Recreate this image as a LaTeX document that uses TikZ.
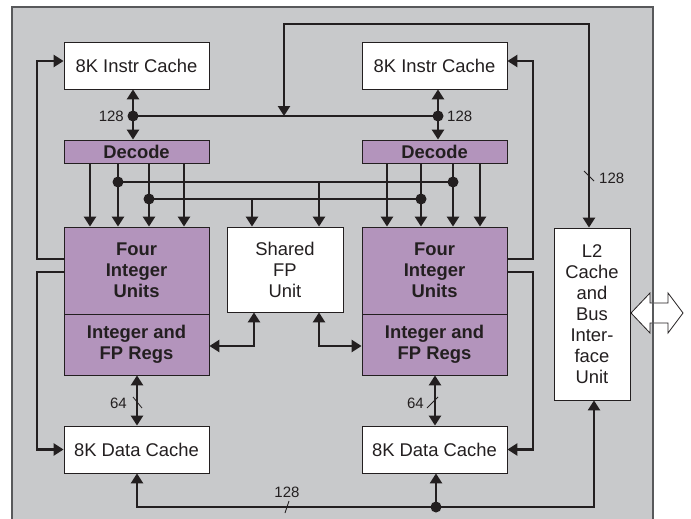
\documentclass[tikz,border=0pt]{standalone}
\usepackage{fontspec}
\setmainfont{Liberation Sans}
\usetikzlibrary{arrows.meta}
\definecolor{panelgray}{HTML}{C8C9CB}
\definecolor{unitpurple}{HTML}{B394BC}
\definecolor{ink}{HTML}{231F20}
\definecolor{framegray}{HTML}{58595B}
\begin{document}
\begin{tikzpicture}[x=1pt,y=-1pt,
  box/.style={draw=ink, line width=0.8pt, fill=white, inner sep=0pt, text=ink,
    align=center, font=\fontsize{18.4}{21}\selectfont},
  unitbox/.style={box, fill=unitpurple, font=\fontsize{18.4}{21}\selectfont\bfseries},
  wire/.style={draw=ink, line width=2.4pt},
  arr/.style={wire, -{Triangle[width=12pt,length=10pt]}},
  dbl/.style={wire, {Triangle[width=12pt,length=10pt]}-{Triangle[width=12pt,length=10pt]}},
  lbl/.style={font=\fontsize{15}{18}\selectfont, text=ink, inner sep=0pt},
  tick/.style={draw=ink, line width=0.8pt}]

\useasboundingbox (0,0) rectangle (691,519);

% chip background
\fill[panelgray] (12,7) rectangle (653,519);

% blocks
\node[box, minimum width=145, minimum height=47] (icL) at (136.5,65.5) {8K Instr Cache};
\node[box, minimum width=145, minimum height=47] (icR) at (434.5,65.5) {8K Instr Cache};
\node[unitbox, minimum width=145, minimum height=23] (decL) at (136.5,151.5) {Decode};
\node[unitbox, minimum width=145, minimum height=23] (decR) at (434.5,151.5) {Decode};
\node[unitbox, minimum width=145, minimum height=87] (iuL) at (136.5,270.5) {Four\\Integer\\Units};
\node[unitbox, minimum width=145, minimum height=61] (rgL) at (136.5,344.5) {Integer and\\FP Regs};
\node[unitbox, minimum width=145, minimum height=87] (iuR) at (434.5,270.5) {Four\\Integer\\Units};
\node[unitbox, minimum width=145, minimum height=61] (rgR) at (434.5,344.5) {Integer and\\FP Regs};
\node[box, minimum width=116, minimum height=85] (fp) at (285,269.5) {Shared\\FP\\Unit};
\node[box, minimum width=145, minimum height=47] (dcL) at (136.5,449.5) {8K Data Cache};
\node[box, minimum width=145, minimum height=47] (dcR) at (434.5,449.5) {8K Data Cache};
\node[box, minimum width=76, minimum height=172] (l2) at (592,314) {L2\\Cache\\and\\Bus\\Inter-\\face\\Unit};

% bus junctions
\coordinate (jL) at (133,116);
\coordinate (jR) at (438,116);
\coordinate (tapT) at (284,116);
\coordinate (topRun) at (589,24);
\coordinate (dA) at (118,182);
\coordinate (dB) at (149,199);
\coordinate (dC) at (453,182);
\coordinate (dD) at (421,199);
\coordinate (fpA) at (252,199);
\coordinate (fpB) at (319,182);
\coordinate (jB) at (436,507);

% instruction buses
\draw[dbl] (icL.south -| jL) -- (decL.north -| jL);
\draw[dbl] (icR.south -| jR) -- (decR.north -| jR);
\draw[wire] (jL) -- (jR);
\draw[dbl] (tapT) |- (topRun) -- (l2.north -| topRun);
\draw[tick] (584,171) -- (594,181);
\node[lbl, anchor=west] (w128t) at (599,178) {128};
\node[lbl, anchor=east] (w128l) at (124,116) {128};
\node[lbl, anchor=west] (w128r) at (447,116) {128};

% decode fan-out
\foreach \x in {90,118,149,184} \draw[arr] (decL.south -| \x,0) -- (iuL.north -| \x,0);
\foreach \x in {387,421,453,480} \draw[arr] (decR.south -| \x,0) -- (iuR.north -| \x,0);
\draw[wire] (dA) -- (dC);
\draw[wire] (dB) -- (dD);
\draw[arr] (fpA) -- (fp.north -| fpA);
\draw[arr] (fpB) -- (fp.north -| fpB);

% shared FP unit to register files
\draw[dbl] (fp.south -| 254,0) |- (rgL.east |- 0,346);
\draw[dbl] (fp.south -| 319,0) |- (rgR.west |- 0,346);

% register files to data caches
\draw[dbl] (rgL.south -| 137,0) -- (dcL.north -| 137,0);
\draw[dbl] (rgR.south -| 435,0) -- (dcR.north -| 435,0);
\draw[tick] (133,397) -- (142,408);
\draw[tick] (427,408) -- (438,397);
\node[lbl, anchor=east] (w64l) at (127,403) {64};
\node[lbl, anchor=east] (w64r) at (424,403) {64};

% integer units back to the caches
\draw[arr] (iuL.west |- 0,259) -- (37,259) |- (icL.west |- 0,61);
\draw[arr] (iuL.west |- 0,272) -- (37,272) |- (dcL.west);
\draw[arr] (iuR.east |- 0,259) -- (533,259) |- (icR.east |- 0,61);
\draw[arr] (iuR.east |- 0,272) -- (533,272) |- (dcR.east);

% data caches to L2
\draw[dbl] (dcL.south -| 137,0) |- (jB -| 594,0) -- (l2.south -| 594,0);
\draw[arr] (jB) -- (dcR.south -| jB);
\draw[tick] (285,513) -- (289,501);
\node[lbl] (w128b) at (287,492) {128};

% junction dots
\foreach \p in {jL,jR,dA,dB,dC,dD,jB} \fill[ink] (\p) circle[radius=5.5];

% external bus
\draw[draw=ink, line width=0.8pt, fill=white]
  (631,313) -- (650,293) -- (650,303) -- (668,303) -- (668,293) -- (683,313)
  -- (668,333) -- (668,323) -- (650,323) -- (650,333) -- cycle;

% chip outline
\draw[framegray, line width=1.2pt] (12,519) -- (12,7) -- (653,7) -- (653,519);
\end{tikzpicture}
\end{document}
